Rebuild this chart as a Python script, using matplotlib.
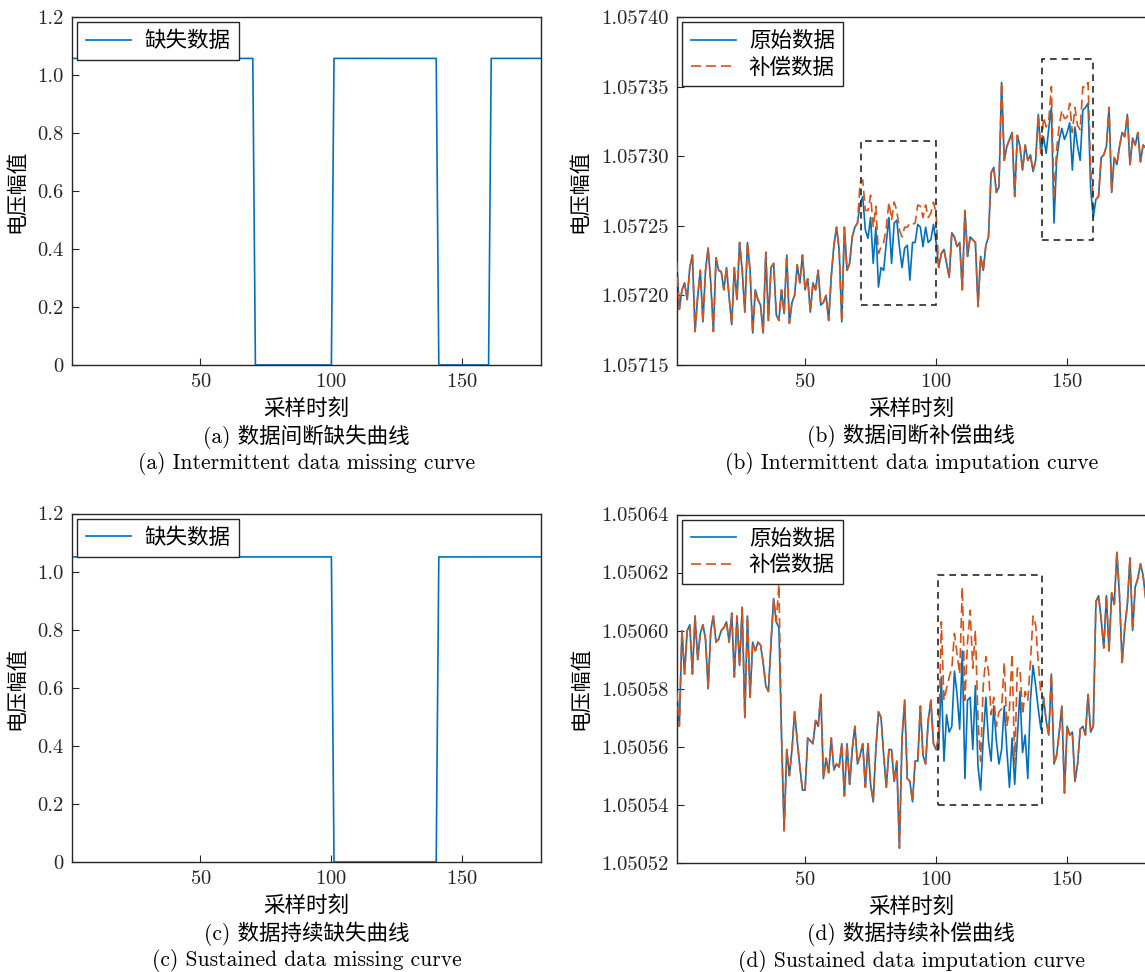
import numpy as np
import matplotlib
matplotlib.use('Agg')
import matplotlib.pyplot as plt
from matplotlib.patches import Rectangle
from matplotlib.ticker import FuncFormatter

plt.rcParams['font.family'] = ['cmr10', 'Noto Sans CJK SC']
plt.rcParams['axes.formatter.use_mathtext'] = True
plt.rcParams['font.size'] = 15

# sample index
t = np.arange(1, 181)

# intermittent case: original voltage (b)
orig_b = np.array([
    1.057224, 1.057190, 1.057204, 1.057209, 1.057197, 1.057220, 1.057229, 1.057174, 1.057199, 1.057218,
    1.057181, 1.057218, 1.057234, 1.057209, 1.057174, 1.057227, 1.057218, 1.057217, 1.057204, 1.057220,
    1.057199, 1.057179, 1.057220, 1.057197, 1.057238, 1.057218, 1.057188, 1.057238, 1.057218, 1.057173,
    1.057204, 1.057197, 1.057193, 1.057173, 1.057231, 1.057182, 1.057220, 1.057223, 1.057186, 1.057182,
    1.057204, 1.057187, 1.057229, 1.057180, 1.057195, 1.057200, 1.057222, 1.057209, 1.057229, 1.057204,
    1.057212, 1.057188, 1.057209, 1.057204, 1.057218, 1.057193, 1.057195, 1.057200, 1.057182, 1.057214,
    1.057236, 1.057249, 1.057233, 1.057181, 1.057249, 1.057218, 1.057223, 1.057242, 1.057249, 1.057252,
    1.057266, 1.057271, 1.057247, 1.057241, 1.057256, 1.057223, 1.057249, 1.057206, 1.057220, 1.057218,
    1.057238, 1.057256, 1.057223, 1.057252, 1.057254, 1.057235, 1.057220, 1.057234, 1.057236, 1.057211,
    1.057238, 1.057238, 1.057251, 1.057249, 1.057235, 1.057249, 1.057238, 1.057240, 1.057251, 1.057238,
    1.057220, 1.057230, 1.057233, 1.057223, 1.057213, 1.057245, 1.057242, 1.057235, 1.057238, 1.057204,
    1.057261, 1.057228, 1.057242, 1.057240, 1.057238, 1.057192, 1.057228, 1.057218, 1.057236, 1.057242,
    1.057288, 1.057292, 1.057274, 1.057278, 1.057353, 1.057297, 1.057307, 1.057312, 1.057317, 1.057271,
    1.057315, 1.057307, 1.057290, 1.057308, 1.057297, 1.057301, 1.057289, 1.057297, 1.057330, 1.057302,
    1.057314, 1.057302, 1.057320, 1.057335, 1.057252, 1.057297, 1.057312, 1.057320, 1.057312, 1.057317,
    1.057324, 1.057290, 1.057321, 1.057307, 1.057297, 1.057333, 1.057335, 1.057338, 1.057276, 1.057256,
    1.057269, 1.057271, 1.057299, 1.057301, 1.057307, 1.057335, 1.057274, 1.057299, 1.057294, 1.057307,
    1.057317, 1.057314, 1.057330, 1.057294, 1.057313, 1.057308, 1.057317, 1.057296, 1.057308, 1.057306,
])
# imputed values inside the two gaps (71-100, 141-160)
imp_b_gap1 = [
    1.057281, 1.057283, 1.057261, 1.057261, 1.057272, 1.057249, 1.057264, 1.057230, 1.057235, 1.057238,
    1.057249, 1.057267, 1.057254, 1.057267, 1.057261, 1.057247, 1.057242, 1.057249, 1.057249, 1.057252,
    1.057251, 1.057252, 1.057265, 1.057264, 1.057256, 1.057265, 1.057256, 1.057259, 1.057267, 1.057259,
]
imp_b_gap2 = [
    1.057328, 1.057321, 1.057326, 1.057350, 1.057269, 1.057305, 1.057322, 1.057333, 1.057327, 1.057328,
    1.057338, 1.057317, 1.057335, 1.057322, 1.057319, 1.057350, 1.057349, 1.057353, 1.057290, 1.057271,
]
gaps_b = [(71, 100), (141, 160)]

# sustained case: original voltage (d)
orig_d = np.array([
    1.050579, 1.050567, 1.050600, 1.050585, 1.050600, 1.050602, 1.050585, 1.050605, 1.050590, 1.050599,
    1.050602, 1.050597, 1.050580, 1.050600, 1.050605, 1.050596, 1.050597, 1.050600, 1.050601, 1.050603,
    1.050596, 1.050606, 1.050584, 1.050605, 1.050588, 1.050608, 1.050570, 1.050605, 1.050577, 1.050596,
    1.050593, 1.050596, 1.050595, 1.050589, 1.050581, 1.050579, 1.050596, 1.050611, 1.050603, 1.050601,
    1.050564, 1.050531, 1.050559, 1.050550, 1.050559, 1.050572, 1.050562, 1.050553, 1.050545, 1.050545,
    1.050563, 1.050562, 1.050561, 1.050569, 1.050567, 1.050578, 1.050549, 1.050556, 1.050551, 1.050563,
    1.050552, 1.050554, 1.050553, 1.050561, 1.050543, 1.050561, 1.050547, 1.050559, 1.050567, 1.050554,
    1.050557, 1.050561, 1.050546, 1.050561, 1.050547, 1.050541, 1.050559, 1.050572, 1.050570, 1.050557,
    1.050546, 1.050559, 1.050559, 1.050548, 1.050555, 1.050525, 1.050563, 1.050576, 1.050549, 1.050548,
    1.050541, 1.050555, 1.050555, 1.050574, 1.050557, 1.050554, 1.050569, 1.050576, 1.050561, 1.050559,
    1.050559, 1.050584, 1.050555, 1.050571, 1.050565, 1.050567, 1.050586, 1.050578, 1.050566, 1.050593,
    1.050549, 1.050576, 1.050577, 1.050559, 1.050581, 1.050553, 1.050545, 1.050563, 1.050577, 1.050562,
    1.050555, 1.050574, 1.050562, 1.050554, 1.050559, 1.050574, 1.050559, 1.050546, 1.050563, 1.050547,
    1.050563, 1.050579, 1.050558, 1.050564, 1.050549, 1.050576, 1.050588, 1.050581, 1.050573, 1.050566,
    1.050577, 1.050569, 1.050564, 1.050585, 1.050554, 1.050557, 1.050565, 1.050574, 1.050544, 1.050567,
    1.050564, 1.050565, 1.050548, 1.050554, 1.050566, 1.050567, 1.050564, 1.050578, 1.050565, 1.050567,
    1.050610, 1.050612, 1.050604, 1.050594, 1.050612, 1.050593, 1.050613, 1.050609, 1.050627, 1.050612,
    1.050589, 1.050601, 1.050609, 1.050625, 1.050600, 1.050615, 1.050618, 1.050623, 1.050619, 1.050611,
])
# imputed values inside the gap (101-140)
imp_d_gap = [
    1.050564, 1.050603, 1.050576, 1.050580, 1.050584, 1.050587, 1.050599, 1.050592, 1.050585, 1.050615,
    1.050576, 1.050596, 1.050607, 1.050587, 1.050600, 1.050569, 1.050555, 1.050581, 1.050591, 1.050586,
    1.050571, 1.050577, 1.050567, 1.050572, 1.050573, 1.050589, 1.050567, 1.050573, 1.050592, 1.050554,
    1.050587, 1.050587, 1.050571, 1.050579, 1.050576, 1.050589, 1.050605, 1.050602, 1.050589, 1.050578,
]
imp_d_extra = {40: 1.050616}
gaps_d = [(101, 140)]

# dashed boxes (x0, y0, x1, y1)
boxes_b = [(71.5, 1.057193, 100, 1.057311), (140.5, 1.057240, 160, 1.057370)]
boxes_d = [(100.9, 1.050540, 140.3, 1.050619)]

blue = '#0072BD'
orange = '#D95319'
spine_c = '#262626'

# build missing / imputed series
miss_b = orig_b.copy()
imp_b = orig_b.copy()
for (a, b), vals in zip(gaps_b, [imp_b_gap1, imp_b_gap2]):
    miss_b[a - 1:b] = 0
    imp_b[a - 1:b] = vals
miss_d = orig_d.copy()
imp_d = orig_d.copy()
for (a, b), vals in zip(gaps_d, [imp_d_gap]):
    miss_d[a - 1:b] = 0
    imp_d[a - 1:b] = vals
for k, v in imp_d_extra.items():
    imp_d[k - 1] = v

fig = plt.figure(figsize=(11.45, 9.72), dpi=100)
W, H = 1145, 972


def make_ax(x0, y0, x1, y1):
    return fig.add_axes([x0 / W, 1 - y1 / H, (x1 - x0) / W, (y1 - y0) / H])


ax_a = make_ax(72, 17, 541, 365)
ax_b = make_ax(676.7, 17, 1145.7, 365)
ax_c = make_ax(72, 513.5, 541, 862)
ax_d = make_ax(676.7, 514.5, 1145.7, 862.7)


def style(ax):
    ax.set_xlim(1, 180)
    ax.set_xticks([50, 100, 150])
    for s in ax.spines.values():
        s.set_color(spine_c)
        s.set_linewidth(1.0)
    ax.tick_params(direction='in', length=5, width=0.8, color=spine_c,
                   labelcolor='#262626', labelsize=14.8, pad=6)
    ax.set_xlabel('采样时刻', fontsize=15.5, labelpad=5)
    ax.set_ylabel('电压幅值', fontsize=15, labelpad=8)


def captions(ax, cn, en):
    ax.text(0.5, -0.205, cn, transform=ax.transAxes, ha='center', va='center', fontsize=15.5)
    ax.text(0.5, -0.283, en, transform=ax.transAxes, ha='center', va='center', fontsize=15.5)


def legend(ax):
    leg = ax.legend(loc='upper left', fontsize=15.5, frameon=True, fancybox=False,
                    framealpha=1, edgecolor=spine_c, borderaxespad=0.25,
                    handlelength=2.1, handletextpad=0.6, borderpad=0.4, labelspacing=0.3)
    leg.get_frame().set_linewidth(1.0)


fmt_01 = FuncFormatter(lambda v, p: '0' if abs(v) < 1e-9 else f'{v:.1f}')

# (a)
ax_a.plot(t, miss_b, color=blue, lw=1.2, label='缺失数据')
ax_a.set_ylim(0, 1.2)
ax_a.set_yticks(np.arange(0, 1.21, 0.2))
ax_a.yaxis.set_major_formatter(fmt_01)
style(ax_a)
legend(ax_a)
captions(ax_a, '(a) 数据间断缺失曲线', '(a) Intermittent data missing curve')

# (b)
ax_b.plot(t, orig_b, color=blue, lw=1.2, label='原始数据', zorder=2)
ax_b.plot(t, imp_b, color=orange, lw=1.2, ls=(0, (6, 3)), label='补偿数据', zorder=3)
for x0, y0, x1, y1 in boxes_b:
    ax_b.add_patch(Rectangle((x0, y0), x1 - x0, y1 - y0, fill=False, ec=spine_c,
                             ls=(0, (4, 3)), lw=1.2, zorder=4))
ax_b.set_ylim(1.05715, 1.05740)
ax_b.set_yticks(np.linspace(1.05715, 1.05740, 6))
ax_b.yaxis.set_major_formatter(FuncFormatter(lambda v, p: f'{v:.5f}'))
style(ax_b)
legend(ax_b)
captions(ax_b, '(b) 数据间断补偿曲线', '(b) Intermittent data imputation curve')

# (c)
ax_c.plot(t, miss_d, color=blue, lw=1.2, label='缺失数据')
ax_c.set_ylim(0, 1.2)
ax_c.set_yticks(np.arange(0, 1.21, 0.2))
ax_c.yaxis.set_major_formatter(fmt_01)
style(ax_c)
legend(ax_c)
captions(ax_c, '(c) 数据持续缺失曲线', '(c) Sustained data missing curve')

# (d)
ax_d.plot(t, orig_d, color=blue, lw=1.2, label='原始数据', zorder=2)
ax_d.plot(t, imp_d, color=orange, lw=1.2, ls=(0, (6, 3)), label='补偿数据', zorder=3)
for x0, y0, x1, y1 in boxes_d:
    ax_d.add_patch(Rectangle((x0, y0), x1 - x0, y1 - y0, fill=False, ec=spine_c,
                             ls=(0, (4, 3)), lw=1.2, zorder=4))
ax_d.set_ylim(1.05052, 1.05064)
ax_d.set_yticks(np.linspace(1.05052, 1.05064, 7))
ax_d.yaxis.set_major_formatter(FuncFormatter(lambda v, p: f'{v:.5f}'))
style(ax_d)
legend(ax_d)
captions(ax_d, '(d) 数据持续补偿曲线', '(d) Sustained data imputation curve')

fig.savefig('out.png', dpi=100)
